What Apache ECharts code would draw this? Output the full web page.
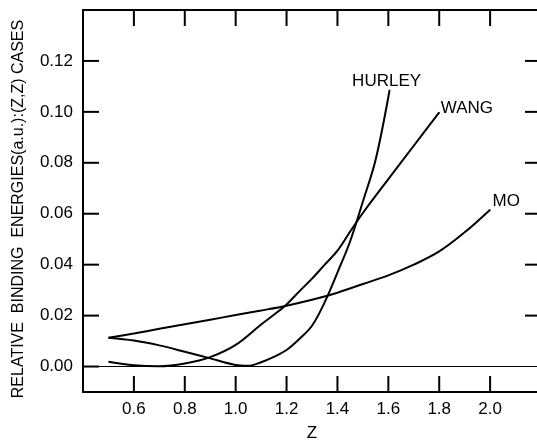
<!DOCTYPE html>
<html>
<head>
<meta charset="utf-8">
<script src="https://cdn.jsdelivr.net/npm/echarts@6/dist/echarts.min.js"></script>
<style>
  html, body { margin: 0; padding: 0; background: #fff; }
  #main { width: 537px; height: 441px; }
</style>
</head>
<body>
<div id="main"></div>
<script>
// values
const xTicks = [0.6, 0.8, 1.0, 1.2, 1.4, 1.6, 1.8, 2.0];
const yTicks = [0, 0.02, 0.04, 0.06, 0.08, 0.10, 0.12];
const rightTicks = [0.02, 0.04, 0.06, 0.08, 0.10, 0.12];

const hurleyZ = [0.5, 0.6, 0.7, 0.8, 0.9, 1.0, 1.05, 1.1, 1.15, 1.2, 1.25, 1.3, 1.35, 1.4, 1.45, 1.5, 1.55, 1.605];
const hurleyE = [0.0113, 0.0102, 0.0083, 0.0058, 0.0032, 0.0006, 0.0003, 0.0017, 0.0038, 0.0065, 0.0108, 0.0160, 0.0253, 0.0369, 0.0492, 0.0648, 0.0812, 0.1086];

const wangZ = [0.5, 0.6, 0.7, 0.8, 0.9, 1.0, 1.1, 1.15, 1.2, 1.25, 1.3, 1.35, 1.4, 1.45, 1.5, 1.6, 1.7, 1.8];
const wangE = [0.0019, 0.0005, 0.0001, 0.0012, 0.0037, 0.0085, 0.0165, 0.0203, 0.0244, 0.0295, 0.0345, 0.0400, 0.0455, 0.0530, 0.0603, 0.0736, 0.0867, 0.0998];

const moZ = [0.5, 0.6, 0.7, 0.8, 0.9, 1.0, 1.1, 1.2, 1.3, 1.4, 1.5, 1.6, 1.7, 1.8, 1.9, 2.0];
const moE = [0.0113, 0.013, 0.0148, 0.0166, 0.0184, 0.0202, 0.022, 0.0239, 0.0262, 0.0290, 0.0324, 0.0358, 0.040, 0.0452, 0.0527, 0.0616];

const font = "'Liberation Sans', Arial, sans-serif";
const TICK = 16;

// curve with its name written at the last point
function line(name, zs, es, labelOpt) {
    let data = zs.map((z, i) => [z, es[i]]);
    let last = data.length - 1;
    data[last] = {
        value: data[last],
        symbol: 'circle',
        symbolSize: 1,
        label: Object.assign({
            show: true,
            formatter: name,
            color: '#000',
            fontSize: 17,
            fontFamily: font
        }, labelOpt)
    };
    return {
        name: name,
        type: 'line',
        data: data,
        smooth: 0.35,
        symbol: 'none',
        showSymbol: true,
        itemStyle: { color: '#000' },
        lineStyle: { color: '#000', width: 2 },
        z: 3
    };
}

// inward tick marks on one side of the frame, placed with the axis scale
function ticks(vals, side) {
    let vertical = side === 'bottom' || side === 'top';
    return {
        type: 'custom',
        silent: true,
        data: vals.map(v => vertical ? [v, 0.05] : [1, v]),
        renderItem: function (params, api) {
            let cs = params.coordSys;
            let p = api.coord([api.value(0), api.value(1)]);
            let s;
            if (side === 'bottom') s = { x1: p[0], y1: cs.y + cs.height, x2: p[0], y2: cs.y + cs.height - TICK };
            else if (side === 'top') s = { x1: p[0], y1: cs.y, x2: p[0], y2: cs.y + TICK };
            else if (side === 'left') s = { x1: cs.x, y1: p[1], x2: cs.x + TICK, y2: p[1] };
            else s = { x1: cs.x + cs.width, y1: p[1], x2: cs.x + cs.width - TICK, y2: p[1] };
            return { type: 'line', shape: s, style: { stroke: '#000', lineWidth: 2 } };
        },
        z: 4
    };
}

var myChart = echarts.init(document.getElementById('main'));

const axisLine = { show: true, onZero: false, lineStyle: { color: '#000', width: 2 } };

var option = {
    animation: false,
    backgroundColor: '#fff',
    grid: { left: 83, top: 10, width: 458, height: 382, outerBoundsMode: 'none' },
    xAxis: [{
        type: 'value',
        min: 0.4,
        max: 2.2,
        position: 'bottom',
        name: 'Z',
        nameLocation: 'middle',
        nameGap: 33,
        nameTextStyle: { color: '#000', fontSize: 17, fontFamily: font },
        axisLine: axisLine,
        axisTick: { show: false },
        axisLabel: {
            customValues: xTicks,
            color: '#000',
            fontSize: 17,
            fontFamily: font,
            margin: 9,
            formatter: v => v.toFixed(1)
        },
        splitLine: { show: false }
    }, {
        type: 'value',
        min: 0.4,
        max: 2.2,
        position: 'top',
        axisLine: axisLine,
        axisTick: { show: false },
        axisLabel: { show: false },
        splitLine: { show: false }
    }],
    yAxis: [{
        type: 'value',
        min: -0.01,
        max: 0.14,
        position: 'left',
        axisLine: axisLine,
        axisTick: { show: false },
        axisLabel: {
            customValues: yTicks,
            color: '#000',
            fontSize: 17,
            fontFamily: font,
            margin: 10,
            formatter: v => v.toFixed(2)
        },
        splitLine: { show: false }
    }, {
        type: 'value',
        min: -0.01,
        max: 0.14,
        position: 'right',
        axisLine: axisLine,
        axisTick: { show: false },
        axisLabel: { show: false },
        splitLine: { show: false }
    }],
    graphic: [{
        type: 'text',
        x: 19,
        y: 209,
        rotation: Math.PI / 2,
        style: {
            text: 'RELATIVE  BINDING  ENERGIES(a.u.):(Z,Z) CASES',
            fill: '#000',
            fontSize: 16,
            fontFamily: font,
            align: 'center',
            verticalAlign: 'middle'
        }
    }],
    series: [
        Object.assign(line('HURLEY', hurleyZ, hurleyE, { position: 'top', distance: 0, offset: [-3, 0] }), {
            markLine: {
                silent: true,
                symbol: 'none',
                label: { show: false },
                lineStyle: { color: '#000', width: 1, type: 'solid' },
                data: [{ yAxis: 0 }]
            }
        }),
        line('WANG', wangZ, wangE, { position: 'right', distance: 1, offset: [0, -4] }),
        line('MO', moZ, moE, { position: 'right', distance: 2, offset: [0, -8] }),
        ticks(xTicks, 'bottom'),
        ticks(xTicks, 'top'),
        ticks(yTicks, 'left'),
        ticks(rightTicks, 'right')
    ]
};

myChart.setOption(option);
</script>
</body>
</html>
